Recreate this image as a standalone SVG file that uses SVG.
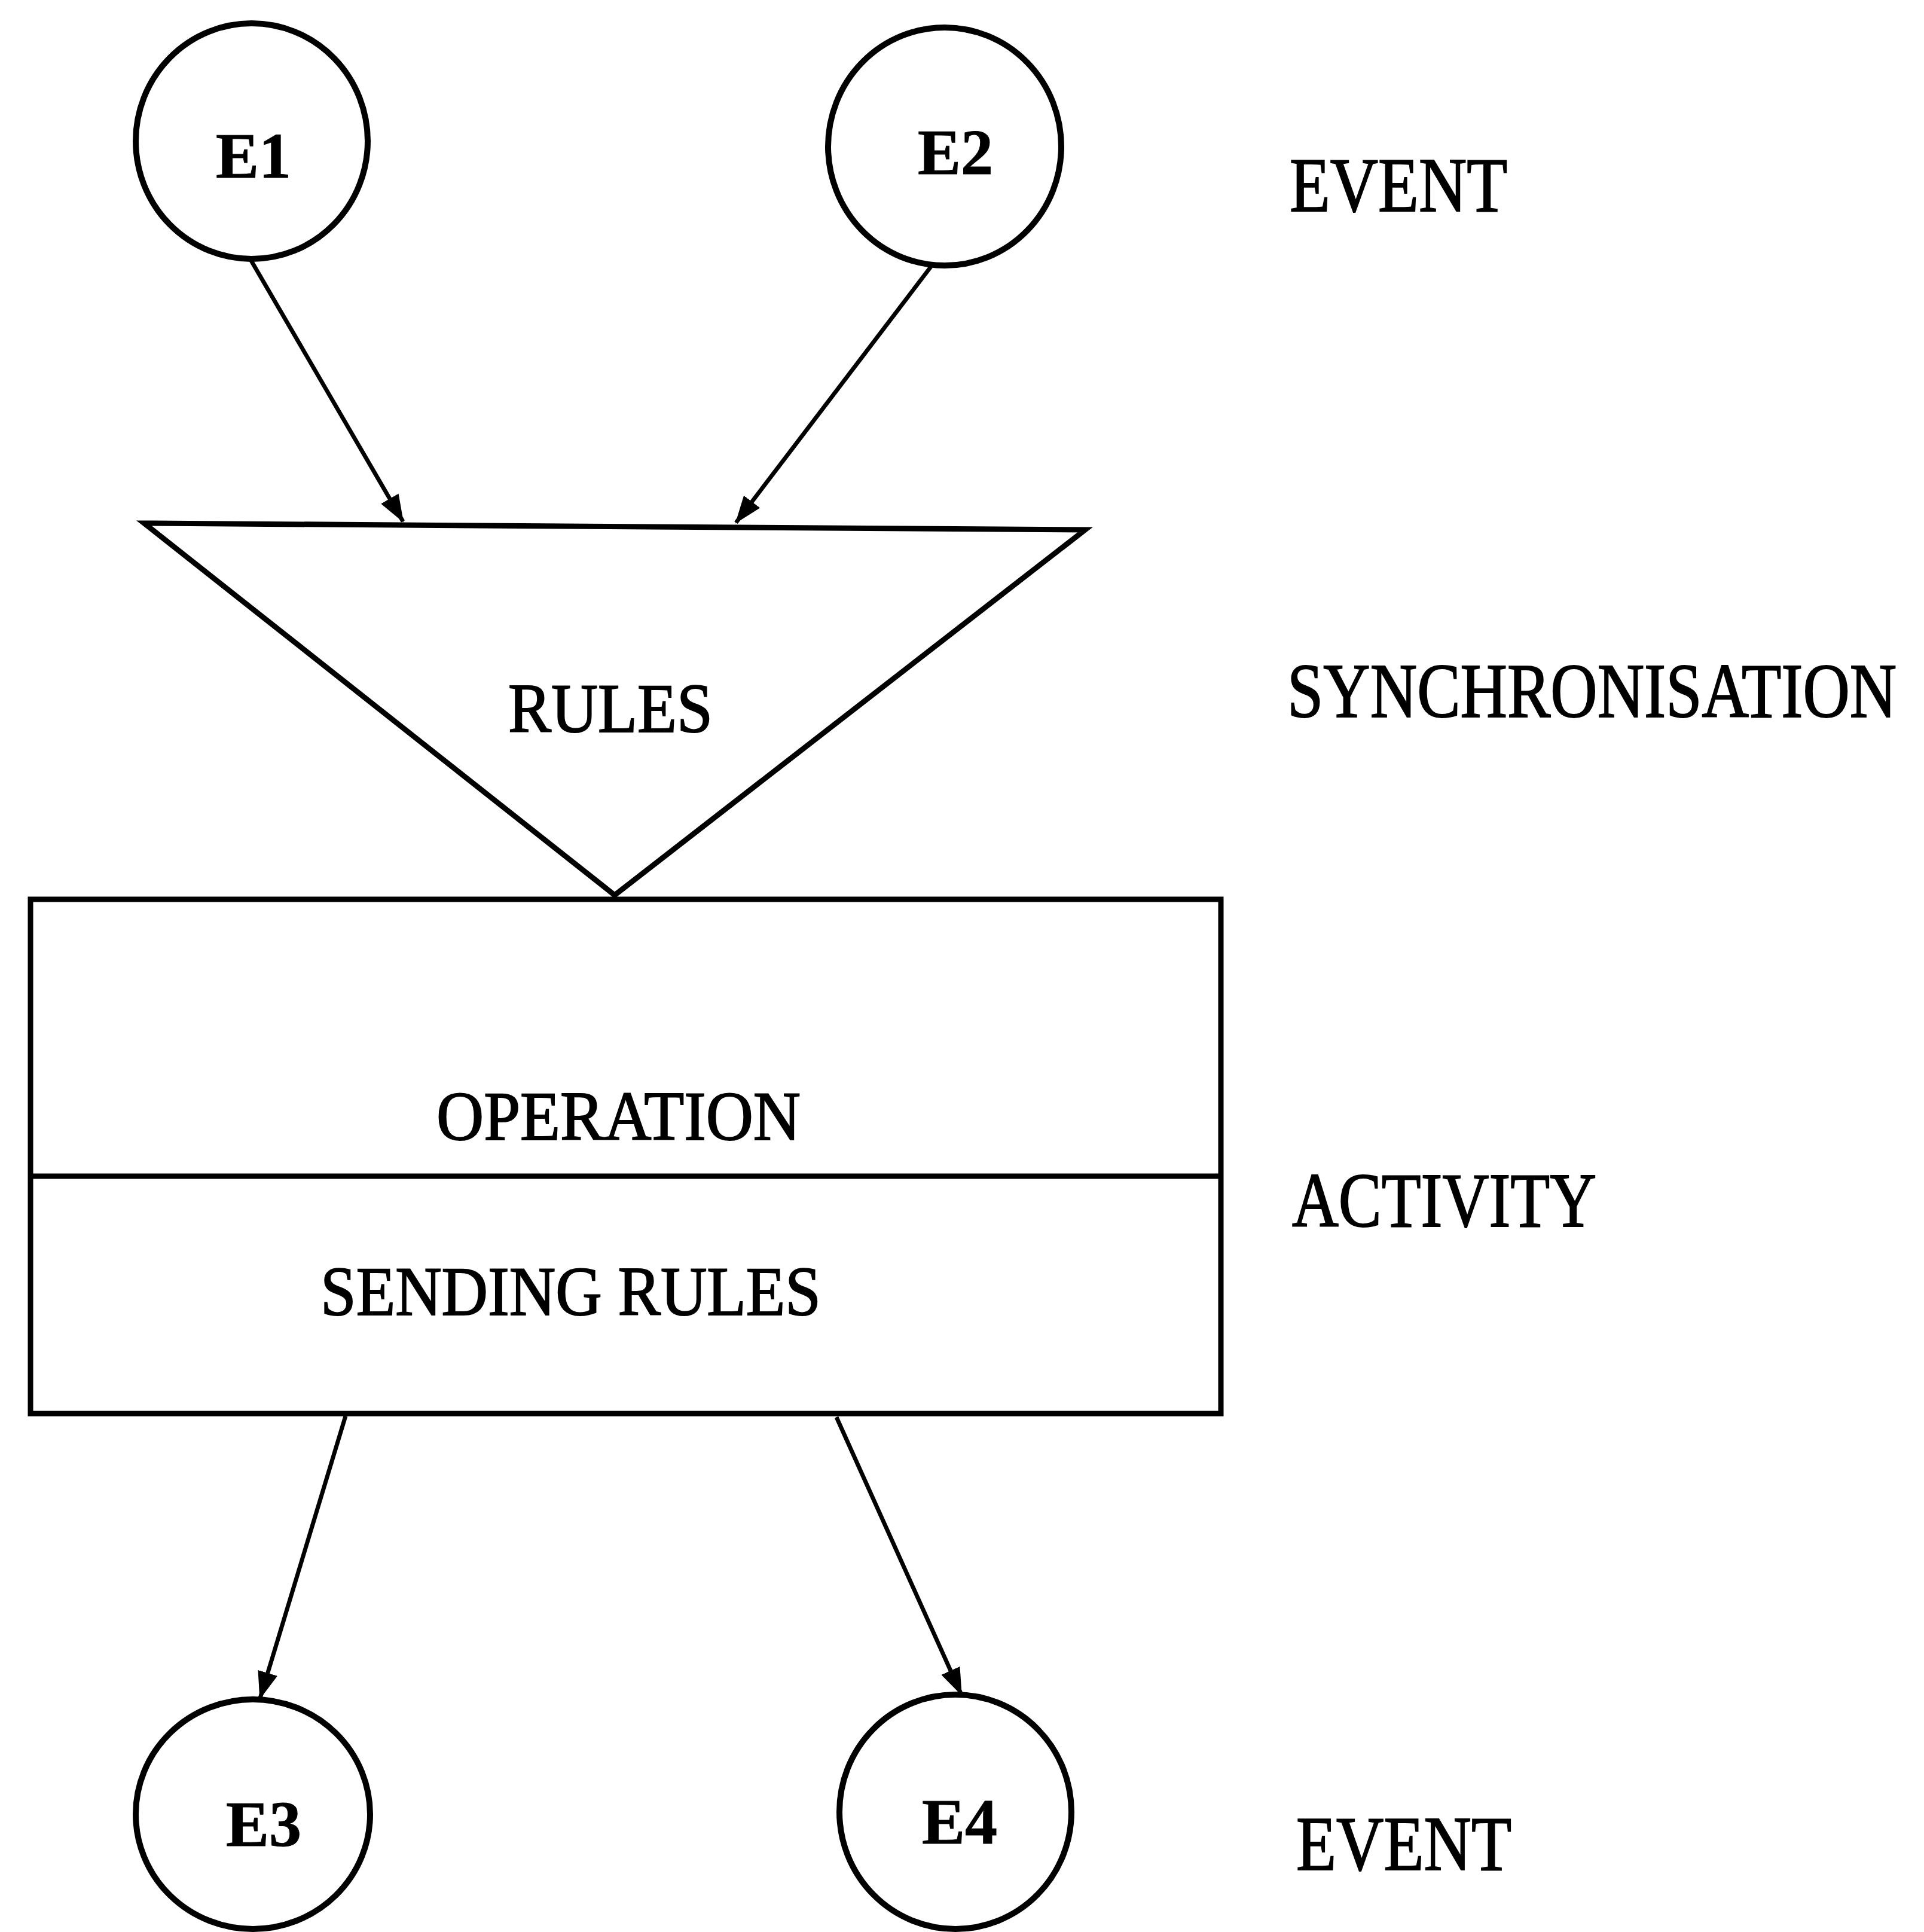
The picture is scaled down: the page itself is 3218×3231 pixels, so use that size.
<svg xmlns="http://www.w3.org/2000/svg" width="3218" height="3231" viewBox="0 0 3218 3231">
  <style>
    .shape { fill: none; stroke: #000; stroke-width: 9; stroke-linejoin: miter; }
    .circle { fill: #fff; stroke: #000; stroke-width: 10; }
    .link { fill: none; stroke: #000; stroke-width: 7; }
    .lbl { font-family: "Liberation Serif", "Times New Roman", serif; fill: #000; stroke: #000; stroke-width: 2; }
    .ev { font-weight: bold; font-size: 108px; text-anchor: middle; stroke-width: 1; }
    .box { font-size: 116px; }
    .side { font-size: 130px; }
  </style>
  <defs>
    <marker id="arrow" markerUnits="userSpaceOnUse" markerWidth="46" markerHeight="34" refX="44" refY="17" orient="auto">
      <path d="M0,0 L46,17 L0,34 z" fill="#000"/>
    </marker>
  </defs>
  <rect width="3218" height="3231" fill="#fff"/>

  <!-- connectors -->
  <g id="connectors">
    <line class="link" x1="419" y1="434" x2="674" y2="872" marker-end="url(#arrow)"/>
    <line class="link" x1="1557" y1="446" x2="1231" y2="874" marker-end="url(#arrow)"/>
    <line class="link" x1="578" y1="2368" x2="435" y2="2840" marker-end="url(#arrow)"/>
    <line class="link" x1="1399" y1="2370" x2="1608" y2="2834" marker-end="url(#arrow)"/>
  </g>

  <!-- input events -->
  <g id="e1">
    <ellipse class="circle" cx="421" cy="236" rx="194" ry="197"/>
    <text class="lbl ev" x="424" y="297">E1</text>
  </g>
  <g id="e2">
    <ellipse class="circle" cx="1580" cy="245" rx="195" ry="199"/>
    <text class="lbl ev" x="1598" y="291">E2</text>
  </g>

  <!-- synchronisation rules -->
  <g id="rules">
    <polygon class="shape" points="241,875 1815,886 1028,1497"/>
    <text class="lbl box" x="850" y="1224" textLength="342" lengthAdjust="spacingAndGlyphs">RULES</text>
  </g>

  <!-- activity box -->
  <g id="activity">
    <rect class="shape" x="51" y="1504" width="1991" height="860"/>
    <line class="shape" x1="51" y1="1967" x2="2042" y2="1967"/>
    <text class="lbl box" x="730" y="1906" textLength="609" lengthAdjust="spacingAndGlyphs">OPERATION</text>
    <text class="lbl box" x="536" y="2199" textLength="837" lengthAdjust="spacingAndGlyphs">SENDING RULES</text>
  </g>

  <!-- output events -->
  <g id="e3">
    <ellipse class="circle" cx="423" cy="3034" rx="196" ry="192"/>
    <text class="lbl ev" x="441" y="3087">E3</text>
  </g>
  <g id="e4">
    <ellipse class="circle" cx="1598" cy="3030" rx="194" ry="196"/>
    <text class="lbl ev" x="1605" y="3083">E4</text>
  </g>

  <!-- level legend (narrowed serif caps) -->
  <g id="legend">
    <text class="lbl side" x="2157" y="353" textLength="364" lengthAdjust="spacingAndGlyphs">EVENT</text>
    <text class="lbl side" transform="translate(2153 1199) scale(0.835 1)" x="0" y="0">SYNCHRONISATION</text>
    <text class="lbl side" x="2161" y="2051" textLength="509" lengthAdjust="spacingAndGlyphs">ACTIVITY</text>
    <text class="lbl side" x="2168" y="3127" textLength="360" lengthAdjust="spacingAndGlyphs">EVENT</text>
  </g>
</svg>
